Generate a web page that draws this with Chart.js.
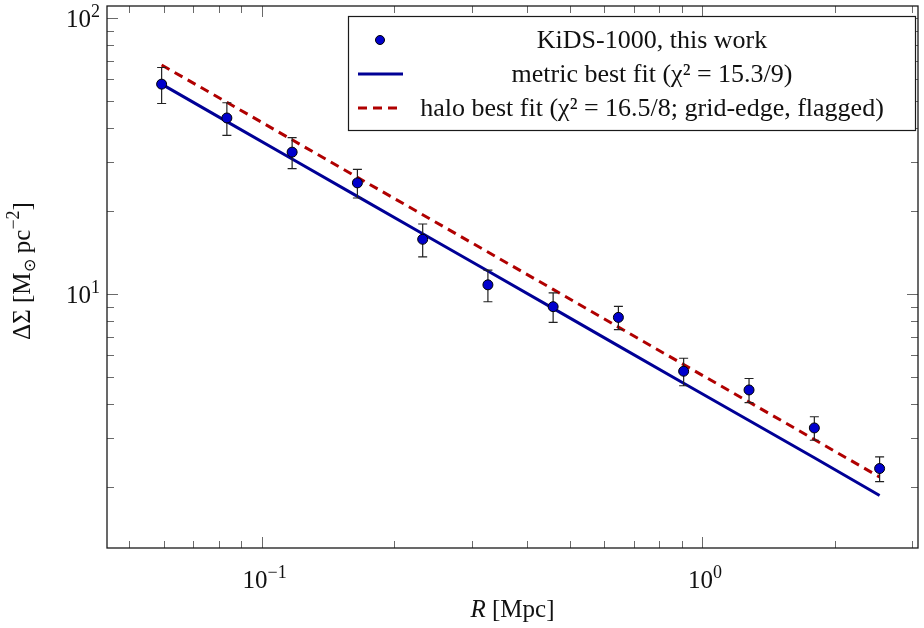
<!DOCTYPE html>
<html><head><meta charset="utf-8">
<script src="https://cdn.jsdelivr.net/npm/chart.js@4.4.1/dist/chart.umd.min.js"></script>
<style>html,body{margin:0;padding:0;background:#fff}#wrap{width:924px;height:628px}</style>
</head><body><div id="wrap"><canvas id="c" width="924" height="628"></canvas></div>
<script>
// ---- data ----
const radiusMpc = [0.0593, 0.0834, 0.1173, 0.1650, 0.2321, 0.3264, 0.4590, 0.6456, 0.9080, 1.278, 1.798, 2.529];
const deltaSigma = [57.7, 43.5, 32.7, 25.3, 15.8, 10.8, 9.0, 8.23, 5.25, 4.49, 3.27, 2.33];
const deltaSigmaErr = [8.6, 5.9, 4.2, 3.0, 2.15, 1.42, 1.1, 0.8, 0.6, 0.45, 0.32, 0.24];
const metricFit = [57.7, 42.2, 30.9, 22.6, 16.55, 12.12, 8.87, 6.49, 4.75, 3.48, 2.55, 1.86];
const haloFit = [67.7, 49.6, 36.25, 26.5, 19.4, 14.2, 10.4, 7.59, 5.55, 4.06, 2.97, 2.17];
const seriesLabels = ['KiDS-1000, this work', 'metric best fit (\u03c7\u00b2 = 15.3/9)', 'halo best fit (\u03c7\u00b2 = 16.5/8; grid-edge, flagged)'];
const xTickValues = [0.05,0.06,0.07,0.08,0.09,0.1,0.2,0.3,0.4,0.5,0.6,0.7,0.8,0.9,1,2,3];
const xMajorValues = [0.1, 1];
const xMajorExponents = ['\u22121', '0'];
const yTickValues = [2,3,4,5,6,7,8,9,10,20,30,40,50,60,70,80,90,100];
const yMajorValues = [10, 100];
const yMajorExponents = ['1', '2'];
const xRange = [0.04457, 3.091];
const yRange = [1.2, 110.8];
const xTitleParts = ['R', ' [Mpc]'];
const yTitleParts = ['\u0394\u03a3 [M', '\u2299', ' pc', '\u22122', ']'];

const FONT = '"Liberation Serif", "Times New Roman", serif';
const C_MARK = '#0000cc', C_METRIC = '#000096', C_HALO = '#b00000';
const C_TEXT = '#111';

const pts = a => radiusMpc.map((x, i) => ({x: x, y: a[i]}));

function richWidth(ctx, segs) {
  let w = 0;
  segs.forEach(s => { ctx.font = (s.italic ? 'italic ' : '') + s.size + 'px ' + FONT; w += ctx.measureText(s.text).width; });
  return w;
}
function drawRich(ctx, segs, x, y, align) {
  const w = richWidth(ctx, segs);
  let cx = align === 'center' ? x - w / 2 : (align === 'right' ? x - w : x);
  ctx.textAlign = 'left'; ctx.textBaseline = 'alphabetic'; ctx.fillStyle = C_TEXT;
  segs.forEach(s => {
    ctx.font = (s.italic ? 'italic ' : '') + s.size + 'px ' + FONT;
    ctx.fillText(s.text, cx, y + (s.dy || 0));
    cx += ctx.measureText(s.text).width;
  });
}
const powerSegs = e => [{text: '10', size: 25}, {text: e, size: 18, dy: -10}];

const errorBars = {
  id: 'errorBars',
  beforeDatasetDraw(chart, args) {
    if (args.index !== 0) return;
    const {ctx, scales: {x, y}} = chart;
    ctx.save();
    ctx.strokeStyle = '#222'; ctx.lineWidth = 1.2;
    radiusMpc.forEach((r, i) => {
      const px = x.getPixelForValue(r);
      const y1 = y.getPixelForValue(deltaSigma[i] + deltaSigmaErr[i]);
      const y2 = y.getPixelForValue(deltaSigma[i] - deltaSigmaErr[i]);
      ctx.beginPath();
      ctx.moveTo(px, y1); ctx.lineTo(px, y2);
      ctx.moveTo(px - 4.5, y1); ctx.lineTo(px + 4.5, y1);
      ctx.moveTo(px - 4.5, y2); ctx.lineTo(px + 4.5, y2);
      ctx.stroke();
    });
    ctx.restore();
  }
};

const frameTicks = {
  id: 'frameTicks',
  afterDraw(chart) {
    const {ctx, chartArea: a, scales: {x, y}} = chart;
    ctx.save();
    ctx.strokeStyle = '#6a6a6a'; ctx.lineWidth = 1;
    x.ticks.forEach(t => {
      const px = Math.round(x.getPixelForValue(t.value)) + 0.5;
      const L = xMajorValues.includes(t.value) ? 11 : 7;
      ctx.beginPath();
      ctx.moveTo(px, a.bottom); ctx.lineTo(px, a.bottom - L);
      ctx.moveTo(px, a.top); ctx.lineTo(px, a.top + L);
      ctx.stroke();
    });
    y.ticks.forEach(t => {
      const py = Math.round(y.getPixelForValue(t.value)) + 0.5;
      const L = yMajorValues.includes(t.value) ? 11 : 7;
      ctx.beginPath();
      ctx.moveTo(a.left, py); ctx.lineTo(a.left + L, py);
      ctx.moveTo(a.right, py); ctx.lineTo(a.right - L, py);
      ctx.stroke();
    });
    ctx.strokeStyle = '#1a1a1a'; ctx.lineWidth = 1.3;
    ctx.strokeRect(a.left, a.top, a.right - a.left, a.bottom - a.top);

    xMajorValues.forEach((v, i) => drawRich(ctx, powerSegs(xMajorExponents[i]), x.getPixelForValue(v) + 3, a.bottom + 40, 'center'));
    yMajorValues.forEach((v, i) => drawRich(ctx, powerSegs(yMajorExponents[i]), a.left - 7, y.getPixelForValue(v) + 9, 'right'));

    drawRich(ctx, [{text: xTitleParts[0], size: 25, italic: true}, {text: xTitleParts[1], size: 25}], (a.left + a.right) / 2, 617, 'center');
    ctx.translate(30, (a.top + a.bottom) / 2 - 6);
    ctx.rotate(-Math.PI / 2);
    drawRich(ctx, [{text: yTitleParts[0], size: 25}, {text: yTitleParts[1], size: 16, dy: 5}, {text: yTitleParts[2], size: 25},
                   {text: yTitleParts[3], size: 18, dy: -11}, {text: yTitleParts[4], size: 25}], 0, 0, 'center');
    ctx.restore();
  }
};

const boxLegend = {
  id: 'boxLegend',
  afterDraw(chart) {
    const {ctx, chartArea: a} = chart;
    const right = a.right - 3, left = 348, top = a.top + 10, bottom = top + 114;
    ctx.save();
    ctx.fillStyle = '#fff';
    ctx.fillRect(left, top, right - left, bottom - top);
    ctx.strokeStyle = '#1a1a1a'; ctx.lineWidth = 1.2;
    ctx.strokeRect(left + 0.5, top + 0.5, right - left, bottom - top);
    const rows = [top + 24, top + 58, top + 92];
    const ds = chart.data.datasets;
    ctx.beginPath(); ctx.arc(left + 32, rows[0], 4.5, 0, Math.PI * 2);
    ctx.fillStyle = C_MARK; ctx.fill(); ctx.strokeStyle = '#000'; ctx.lineWidth = 1; ctx.stroke();
    ctx.beginPath(); ctx.moveTo(left + 10, rows[1]); ctx.lineTo(left + 55, rows[1]);
    ctx.strokeStyle = C_METRIC; ctx.lineWidth = 3; ctx.stroke();
    ctx.beginPath(); ctx.setLineDash([9, 6]); ctx.moveTo(left + 10, rows[2]); ctx.lineTo(left + 55, rows[2]);
    ctx.strokeStyle = C_HALO; ctx.lineWidth = 3; ctx.stroke(); ctx.setLineDash([]);
    ctx.fillStyle = C_TEXT; ctx.font = '26px ' + FONT; ctx.textAlign = 'center'; ctx.textBaseline = 'middle';
    ds.forEach((d, i) => ctx.fillText(d.label, left + 304, rows[i] + 1));
    ctx.restore();
  }
};

new Chart(document.getElementById('c'), {
  type: 'line',
  data: {
    datasets: [
      {label: seriesLabels[0], data: pts(deltaSigma), showLine: false, pointRadius: 5, pointHoverRadius: 5,
       pointBackgroundColor: C_MARK, pointBorderColor: '#000', pointBorderWidth: 1},
      {label: seriesLabels[1], data: pts(metricFit), borderColor: C_METRIC, borderWidth: 3, pointRadius: 0, tension: 0},
      {label: seriesLabels[2], data: pts(haloFit), borderColor: C_HALO, borderWidth: 3, borderDash: [9, 6], pointRadius: 0, tension: 0}
    ]
  },
  options: {
    responsive: false, animation: false, devicePixelRatio: 1,
    layout: {padding: {top: 6, right: 4, left: 0, bottom: 0}},
    plugins: {legend: {display: false}, tooltip: {enabled: false}},
    scales: {
      x: {
        type: 'logarithmic', min: xRange[0], max: xRange[1],
        afterBuildTicks: s => { s.ticks = xTickValues.map(v => ({value: v})); },
        afterFit: s => { s.height = 80; s.paddingLeft = 0; s.paddingRight = 0; },
        grid: {display: false}, border: {display: false},
        ticks: {display: false},
        title: {display: false, text: xTitleParts.join('')}
      },
      y: {
        type: 'logarithmic', min: yRange[0], max: yRange[1],
        afterBuildTicks: s => { s.ticks = yTickValues.map(v => ({value: v})); },
        afterFit: s => { s.width = 107; s.paddingTop = 0; s.paddingBottom = 0; },
        grid: {display: false}, border: {display: false},
        ticks: {display: false},
        title: {display: false, text: yTitleParts.join('')}
      }
    }
  },
  plugins: [errorBars, frameTicks, boxLegend]
});
</script></body></html>
